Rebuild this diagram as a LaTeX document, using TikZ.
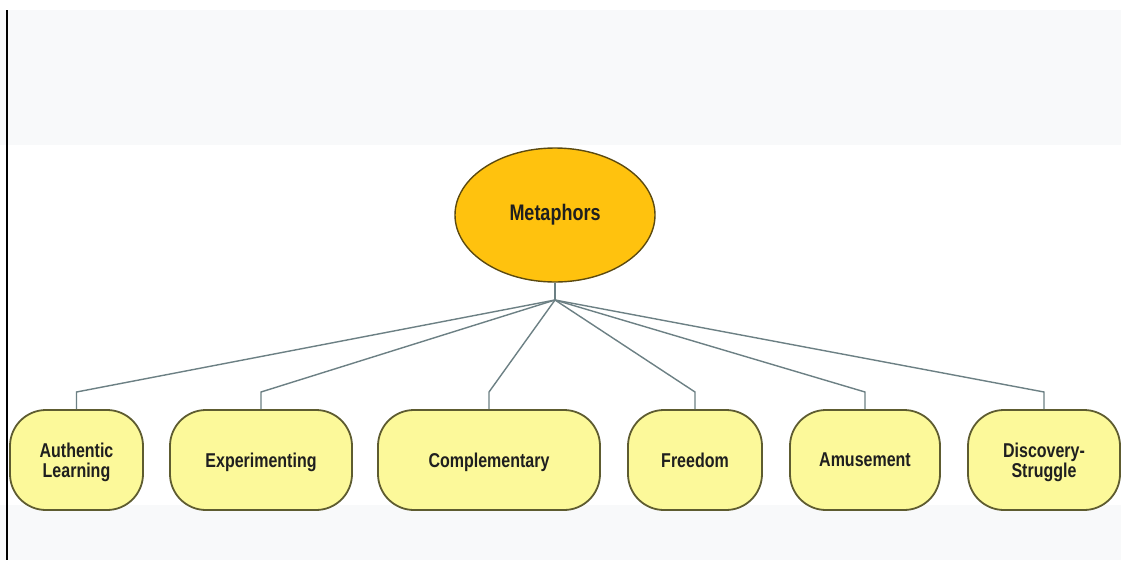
\documentclass[tikz,border=0pt]{standalone}
\usepackage{fontspec}
\setmainfont[FakeStretch=0.8]{Liberation Sans}
\usetikzlibrary{shapes.geometric}
\definecolor{bggray}{HTML}{F8F9FA}
\definecolor{gold}{HTML}{FFC20E}
\definecolor{goldedge}{HTML}{5C4A10}
\definecolor{boxfill}{HTML}{FCF99A}
\definecolor{boxedge}{HTML}{5E5C30}
\definecolor{conncol}{HTML}{6C8084}
\tikzset{
  leaf/.style={draw=boxedge, line width=1.8pt, fill=boxfill, rounded corners=36pt,
    minimum height=100pt, align=center, inner sep=0pt, text depth=-2pt,
    font=\fontsize{20}{21}\selectfont\bfseries, text=black!88},
  hubnode/.style={ellipse, draw=goldedge, line width=1.4pt, fill=gold,
    minimum width=200pt, minimum height=134pt, inner sep=0pt,
    font=\fontsize{22.5}{23}\selectfont\bfseries, text=black!88},
  conn/.style={draw=conncol, line width=1.4pt}
}
\begin{document}
\begin{tikzpicture}[x=1pt,y=-1pt]
\useasboundingbox (0,0) rectangle (1121,560);
\fill[white] (0,0) rectangle (1121,560);
\fill[bggray] (0,10) rectangle (1121,145);
\fill[bggray] (0,505) rectangle (1121,560);
\draw[black, line width=1.2pt] (7,10) -- (7,560);

\node[hubnode] (m) at (555,215) {Metaphors};
\coordinate (hub) at (555,300);
\coordinate (elb) at (0,392);

\node[leaf, minimum width=133pt] (a) at (76.5,460) {Authentic\\[-1pt]Learning};
\node[leaf, minimum width=182pt] (b) at (261,460) {Experimenting};
\node[leaf, minimum width=222pt] (c) at (489,460) {Complementary};
\node[leaf, minimum width=134pt] (d) at (695,460) {Freedom};
\node[leaf, minimum width=150pt] (e) at (865,460) {Amusement};
\node[leaf, minimum width=152pt] (f) at (1044,460) {Discovery-\\[-1pt]Struggle};

\draw[conn] (m.south) -- (hub);
\foreach \n in {a,b,c,d,e,f}{
  \draw[conn] (hub) -- (\n.north |- elb) -- (\n.north);
}
\end{tikzpicture}
\end{document}
